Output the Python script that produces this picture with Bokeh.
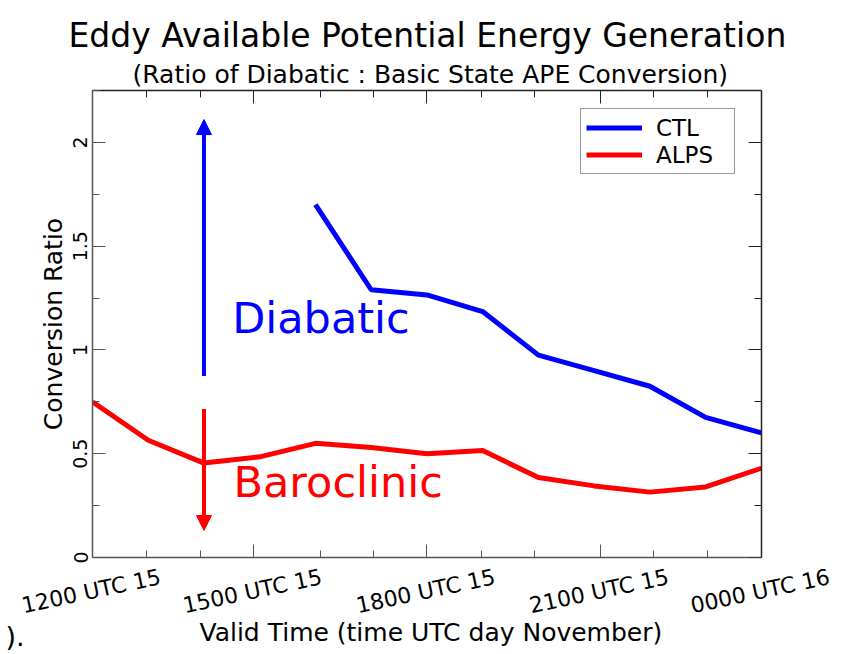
from bokeh.plotting import figure
from bokeh.models import (LinearAxis, FixedTicker, Title, Legend, LegendItem,
                          Arrow, NormalHead, Label, Range1d)
from bokeh.embed import file_html
from bokeh.resources import INLINE

# ---- data: hours after 1200 UTC 15 November ----
ALPS_HOURS = [0, 1, 2, 3, 4, 5, 6, 7, 8, 9, 10, 11, 12]
ALPS_RATIO = [0.75, 0.565, 0.455, 0.485, 0.55, 0.53, 0.50, 0.515, 0.385, 0.345, 0.315, 0.34, 0.43]

CTL_HOURS = [4, 5, 6, 7, 8, 9, 10, 11, 12]
CTL_RATIO = [1.70, 1.29, 1.265, 1.185, 0.975, 0.90, 0.825, 0.675, 0.60]

TICK_LABELS = ["1200 UTC 15", "1500 UTC 15", "1800 UTC 15", "2100 UTC 15", "0000 UTC 16"]

# annotation arrows: (hour, start ratio, end ratio)
DIABATIC_ARROW = (2, 0.875, 2.11)
BAROCLINIC_ARROW = (2, 0.715, 0.13)

FONT = "DejaVu Sans"
BLUE = "#0000ff"
RED = "#ff0000"

T0, T1 = 0, 12          # plotted time span (hours)
X_END = 13.33           # frame runs a little past T1 to leave room for the last date label

p = figure(width=845, height=654,
           x_range=Range1d(T0, X_END), y_range=Range1d(0, 2.25),
           output_backend="svg", toolbar_location=None,
           min_border_left=92, min_border_right=10,
           min_border_top=90, min_border_bottom=97,
           outline_line_color=None, background_fill_color="white")
p.xgrid.grid_line_color = None
p.ygrid.grid_line_color = None

# ---- axes ----
x_major = [0, 2.89, 6, 9.11, 12]
x_minor = [0.975, 1.93, 4.085, 5.04, 6.97, 7.925, 10.07, 11.025]
y_major = [0, 0.5, 1, 1.5, 2]
y_minor = [0.25, 0.75, 1.25, 1.75, 2.25]

def style_axis(ax, color):
    ax.axis_line_color = color
    ax.axis_line_width = 1.5
    ax.major_tick_line_color = color
    ax.minor_tick_line_color = color
    ax.major_tick_in = 13
    ax.major_tick_out = 0
    ax.minor_tick_in = 7
    ax.minor_tick_out = 0
    ax.major_label_text_font = FONT
    ax.major_label_text_color = "black"
    ax.axis_label_text_font = FONT
    ax.axis_label_text_font_style = "normal"
    ax.axis_label_text_color = "black"

# bottom frame edge: ticks only
xax = p.xaxis[0]
xax.ticker = FixedTicker(ticks=x_major, minor_ticks=x_minor)
xax.major_label_overrides = {t: "" for t in x_major}
xax.bounds = (T0, T1)
style_axis(xax, "#555555")
xax.major_label_text_font_size = "1px"
xax.major_label_standoff = 0

# tilted date labels: a label-only axis whose range is shifted by half a
# label width, so each tilted label ends up centred on its tick
half_label = 1.22
p.extra_x_ranges = {"labels": Range1d(T0 - half_label, X_END - half_label)}
lab = LinearAxis(x_range_name="labels",
                 ticker=FixedTicker(ticks=x_major, minor_ticks=[]),
                 major_label_overrides={t: s for t, s in zip(x_major, TICK_LABELS)})
style_axis(lab, None)
lab.major_tick_in = 0
lab.minor_tick_in = 0
lab.major_label_orientation = 0.21
lab.major_label_text_font_size = "22px"
lab.major_label_standoff = 19
p.add_layout(lab, "below")

# x-axis title, centred under the plotted span
p.add_layout(Title(text="Valid Time (time UTC day November)", align="left",
                   offset=107, standoff=-32, vertical_align="top",
                   text_font=FONT, text_font_size="25px",
                   text_font_style="normal", text_color="black"), "below")

# stray closing text at the lower left
p.add_layout(Title(text=").", align="left", offset=-87, standoff=-26,
                   vertical_align="top",
                   text_font=FONT, text_font_size="27px",
                   text_font_style="normal", text_color="black"), "below")

yax = p.yaxis[0]
yax.ticker = FixedTicker(ticks=y_major, minor_ticks=y_minor)
yax.major_label_overrides = {0: "0", 0.5: "0.5", 1: "1", 1.5: "1.5", 2: "2"}
yax.major_label_orientation = "vertical"
style_axis(yax, "#555555")
yax.major_label_text_font_size = "19px"
yax.major_label_standoff = 5
yax.axis_label = "Conversion Ratio"
yax.axis_label_text_font_size = "25px"
yax.axis_label_standoff = 3

# mirrored ticks on the top edge and on the right edge at T1
top = LinearAxis(ticker=FixedTicker(ticks=x_major, minor_ticks=x_minor),
                 major_label_overrides={t: "" for t in x_major}, bounds=(T0, T1))
right = LinearAxis(ticker=FixedTicker(ticks=y_major, minor_ticks=y_minor),
                   major_label_overrides={t: "" for t in y_major}, fixed_location=T1)
for ax in (top, right):
    style_axis(ax, "#222222")
    ax.major_label_text_font_size = "1px"
    ax.major_label_standoff = 0
p.add_layout(top, "above")
p.add_layout(right, "right")

# ---- titles ----
p.add_layout(Title(text="(Ratio of Diabatic : Basic State APE Conversion)",
                   align="left", offset=40, text_font=FONT, text_font_size="25px",
                   text_font_style="normal", text_color="black", standoff=3), "above")
p.add_layout(Title(text="Eddy Available Potential Energy Generation",
                   align="left", offset=-24, text_font=FONT, text_font_size="33px",
                   text_font_style="normal", text_color="black", standoff=3), "above")

# ---- series ----
ctl = p.line(CTL_HOURS, CTL_RATIO, line_color=BLUE, line_width=5)
alps = p.line(ALPS_HOURS, ALPS_RATIO, line_color=RED, line_width=5)

# ---- arrows and labels ----
hx, y0, y1 = DIABATIC_ARROW
p.add_layout(Arrow(end=NormalHead(size=15, fill_color=BLUE, line_color=BLUE),
                   x_start=hx, y_start=y0, x_end=hx, y_end=y1,
                   line_color=BLUE, line_width=4))
hx, y0, y1 = BAROCLINIC_ARROW
p.add_layout(Arrow(end=NormalHead(size=15, fill_color=RED, line_color=RED),
                   x_start=hx, y_start=y0, x_end=hx, y_end=y1,
                   line_color=RED, line_width=4))

p.add_layout(Label(x=2.506, y=1.156, text="Diabatic", text_color=BLUE,
                   text_font=FONT, text_font_size="43px", text_baseline="alphabetic"))
p.add_layout(Label(x=2.53, y=0.362, text="Baroclinic", text_color=RED,
                   text_font=FONT, text_font_size="43px", text_baseline="alphabetic"))

# ---- legend ----
legend = Legend(items=[LegendItem(label="CTL", renderers=[ctl]),
                       LegendItem(label="ALPS", renderers=[alps])],
                location=(488, 383), padding=5, spacing=0, margin=0,
                glyph_width=56, glyph_height=27, label_height=27,
                label_width=73, label_standoff=14,
                label_text_font=FONT, label_text_font_size="23px",
                label_text_color="black",
                border_line_color="#333333", border_line_width=1,
                background_fill_color="white", background_fill_alpha=1)
p.add_layout(legend, "center")

open("out.html", "w").write(file_html(p, INLINE))
